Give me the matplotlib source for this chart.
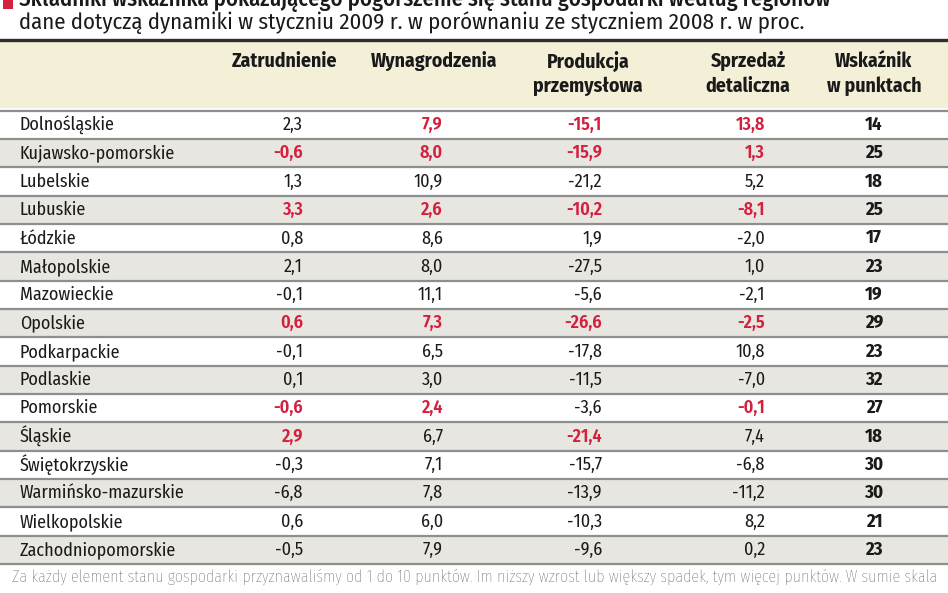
import matplotlib
matplotlib.use("Agg")
import matplotlib.pyplot as plt

RED, DARK, GRID = "#d4203f", "#1a1a1a", "#8e8e8e"
BEIGE, STRIPE = "#f4f0d8", "#e7e6e1"
FONT = ["Fira Sans Condensed", "DejaVu Sans"]

regions = ["Dolnośląskie", "Kujawsko-pomorskie", "Lubelskie", "Lubuskie", "Łódzkie",
           "Małopolskie", "Mazowieckie", "Opolskie", "Podkarpackie", "Podlaskie",
           "Pomorskie", "Śląskie", "Świętokrzyskie", "Warmińsko-mazurskie",
           "Wielkopolskie", "Zachodniopomorskie"]
zatrudnienie = [2.3, -0.6, 1.3, 3.3, 0.8, 2.1, -0.1, 0.6, -0.1, 0.1, -0.6, 2.9, -0.3, -6.8, 0.6, -0.5]
wynagrodzenia = [7.9, 8.0, 10.9, 2.6, 8.6, 8.0, 11.1, 7.3, 6.5, 3.0, 2.4, 6.7, 7.1, 7.8, 6.0, 7.9]
produkcja = [-15.1, -15.9, -21.2, -10.2, 1.9, -27.5, -5.6, -26.6, -17.8, -11.5, -3.6, -21.4,
             -15.7, -13.9, -10.3, -9.6]
sprzedaz = [13.8, 1.3, 5.2, -8.1, -2.0, 1.0, -2.1, -2.5, 10.8, -7.0, -0.1, 7.4, -6.8, -11.2, 8.2, 0.2]
wskaznik = [14, 25, 18, 25, 17, 23, 19, 29, 23, 32, 27, 18, 30, 30, 21, 23]
# komorki wyroznione na czerwono: (wiersz, kolumna)
highlight = {(0, 1), (0, 2), (0, 3), (1, 0), (1, 1), (1, 2), (1, 3), (3, 0), (3, 1), (3, 2), (3, 3),
             (7, 0), (7, 1), (7, 2), (7, 3), (10, 0), (10, 1), (10, 3), (11, 0), (11, 2)}
headers = ["Zatrudnienie", "Wynagrodzenia", "Produkcja\nprzemysłowa", "Sprzedaż\ndetaliczna",
           "Wskaźnik\nw punktach"]

W, H = 948, 593
fig = plt.figure(figsize=(W / 100, H / 100), dpi=100)
ax = fig.add_axes([0, 0, 1, 1])
ax.set_xlim(0, W); ax.set_ylim(H, 0); ax.axis("off")

y0, step = 125, 28.33
head_x = [285, 434, 588, 748, 874]
col_right = [303, 443, 602, 765]

# tytul (gorna linia przycieta jak w oryginale)
ax.add_patch(plt.Rectangle((3, -2), 10, 11, color=RED, lw=0))
ax.text(19, -1, "Składniki wskaźnika pokazującego pogorszenie się stanu gospodarki według regionów",
        fontsize=16.4, fontweight="medium", family=FONT, va="center", color=DARK)
ax.text(19, 23, "dane dotyczą dynamiki w styczniu 2009 r. w porównaniu ze styczniem 2008 r. w proc.",
        fontsize=16.4, family=FONT, va="center", color=DARK)

# naglowek
ax.axhspan(40, 108, color=BEIGE, lw=0)
ax.axhline(39.5, color="#2e2e2e", lw=2.4)
for x, h in zip(head_x, headers):
    for k, line in enumerate(h.split("\n")):
        ax.text(x, 61 + 25 * k, line, ha="center", va="center", fontsize=14.2, fontweight="bold",
                family=FONT, color=DARK)

cols = [zatrudnienie, wynagrodzenia, produkcja, sprzedaz]
for i, name in enumerate(regions):
    yc = y0 + i * step
    if i % 2 == 1:
        ax.axhspan(yc - step / 2, yc + step / 2, color=STRIPE, lw=0)
    ax.axhline(yc - step / 2, color=GRID, lw=1.6)
    ax.text(20, yc, name, va="center", fontsize=13, family=FONT, color=DARK)
    for j, vals in enumerate(cols):
        red = (i, j) in highlight
        ax.text(col_right[j], yc, f"{vals[i]:.1f}".replace(".", ","), ha="right", va="center",
                fontsize=13, family=FONT, color=RED if red else DARK,
                fontweight="semibold" if red else "normal")
    ax.text(head_x[4], yc, str(wskaznik[i]), ha="center", va="center", fontsize=13.5,
            fontweight="bold", family=FONT, color=DARK)
ax.axhline(y0 + (len(regions) - 0.5) * step, color=GRID, lw=1.6)

ax.text(12, 578, "Za każdy element stanu gospodarki przyznawaliśmy od 1 do 10 punktów. Im niższy wzrost "
        "lub większy spadek, tym więcej punktów. W sumie skala", fontsize=11.6, fontweight="light",
        family=FONT, color="#444444", va="center")

fig.savefig("out.png", dpi=100)
